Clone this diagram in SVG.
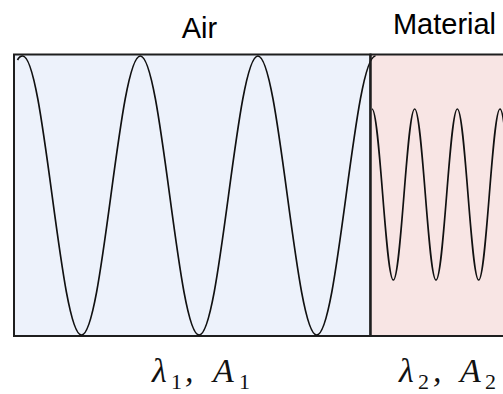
<svg xmlns="http://www.w3.org/2000/svg" width="503" height="394" viewBox="0 0 503 394">
<style>
.box{stroke:#1e1e1e;stroke-width:2}
.wave{fill:none;stroke:#111;stroke-width:1.7;stroke-linejoin:round}
.label{font-family:"Liberation Sans",Arial,sans-serif;font-size:29px;fill:#000;text-anchor:middle}
.math{font-family:"Liberation Serif","Times New Roman",serif;font-style:italic;font-size:34px;fill:#111}
.sub{font-style:normal;font-size:22px}
</style>
<rect x="0" y="0" width="503" height="394" fill="#fff"/>
<g id="air">
<rect class="box" x="14" y="54.5" width="356.5" height="281.5" fill="#edf2fb"/>
<text class="label" x="199.5" y="38">Air</text>
</g>
<g id="material">
<rect class="box" x="370.5" y="54.5" width="150" height="281.5" fill="#f8e5e4"/>
<text class="label" x="444.5" y="34">Material</text>
</g>
<g id="waves">
<path class="wave" d="M17.5,60 C19,57 20.5,56 22.7,56
c 10.64,0 19.81,68.03 29.4,139.5 c 9.59,71.47 18.76,139.5 29.4,139.5 c 10.64,0 19.81,-68.03 29.4,-139.5 c 9.59,-71.47 18.76,-139.5 29.4,-139.5
c 10.64,0 19.81,68.03 29.4,139.5 c 9.59,71.47 18.76,139.5 29.4,139.5 c 10.64,0 19.81,-68.03 29.4,-139.5 c 9.59,-71.47 18.76,-139.5 29.4,-139.5
c 10.64,0 19.81,68.03 29.4,139.5 c 9.59,71.47 18.76,139.5 29.4,139.5 c 10.64,0 19.81,-68.03 29.4,-139.5 c 9.59,-71.47 18.76,-139.5 29.4,-139.5"/>
<path class="wave" d="M372,109
c 3.86,0 7.19,41.7 10.667,85.5 c 3.48,43.8 6.81,85.5 10.667,85.5 c 3.86,0 7.19,-41.7 10.667,-85.5 c 3.48,-43.8 6.81,-85.5 10.667,-85.5
c 3.86,0 7.19,41.7 10.667,85.5 c 3.48,43.8 6.81,85.5 10.667,85.5 c 3.86,0 7.19,-41.7 10.667,-85.5 c 3.48,-43.8 6.81,-85.5 10.667,-85.5
c 3.86,0 7.19,41.7 10.667,85.5 c 3.48,43.8 6.81,85.5 10.667,85.5 c 3.86,0 7.19,-41.7 10.667,-85.5 c 3.48,-43.8 6.81,-85.5 10.667,-85.5
c 3.86,0 7.19,41.7 10.667,85.5"/>
</g>
<line class="box" x1="370.5" y1="54.5" x2="370.5" y2="336" fill="none"/>
<g id="labels">
<text class="math" y="382"><tspan x="152">λ</tspan><tspan class="sub" x="171" y="389">1</tspan><tspan x="185" y="382">,</tspan><tspan x="213">A</tspan><tspan class="sub" x="239" y="389">1</tspan></text>
<text class="math" y="382"><tspan x="399">λ</tspan><tspan class="sub" x="418" y="389">2</tspan><tspan x="433" y="382">,</tspan><tspan x="460">A</tspan><tspan class="sub" x="485" y="389">2</tspan></text>
</g>
</svg>
